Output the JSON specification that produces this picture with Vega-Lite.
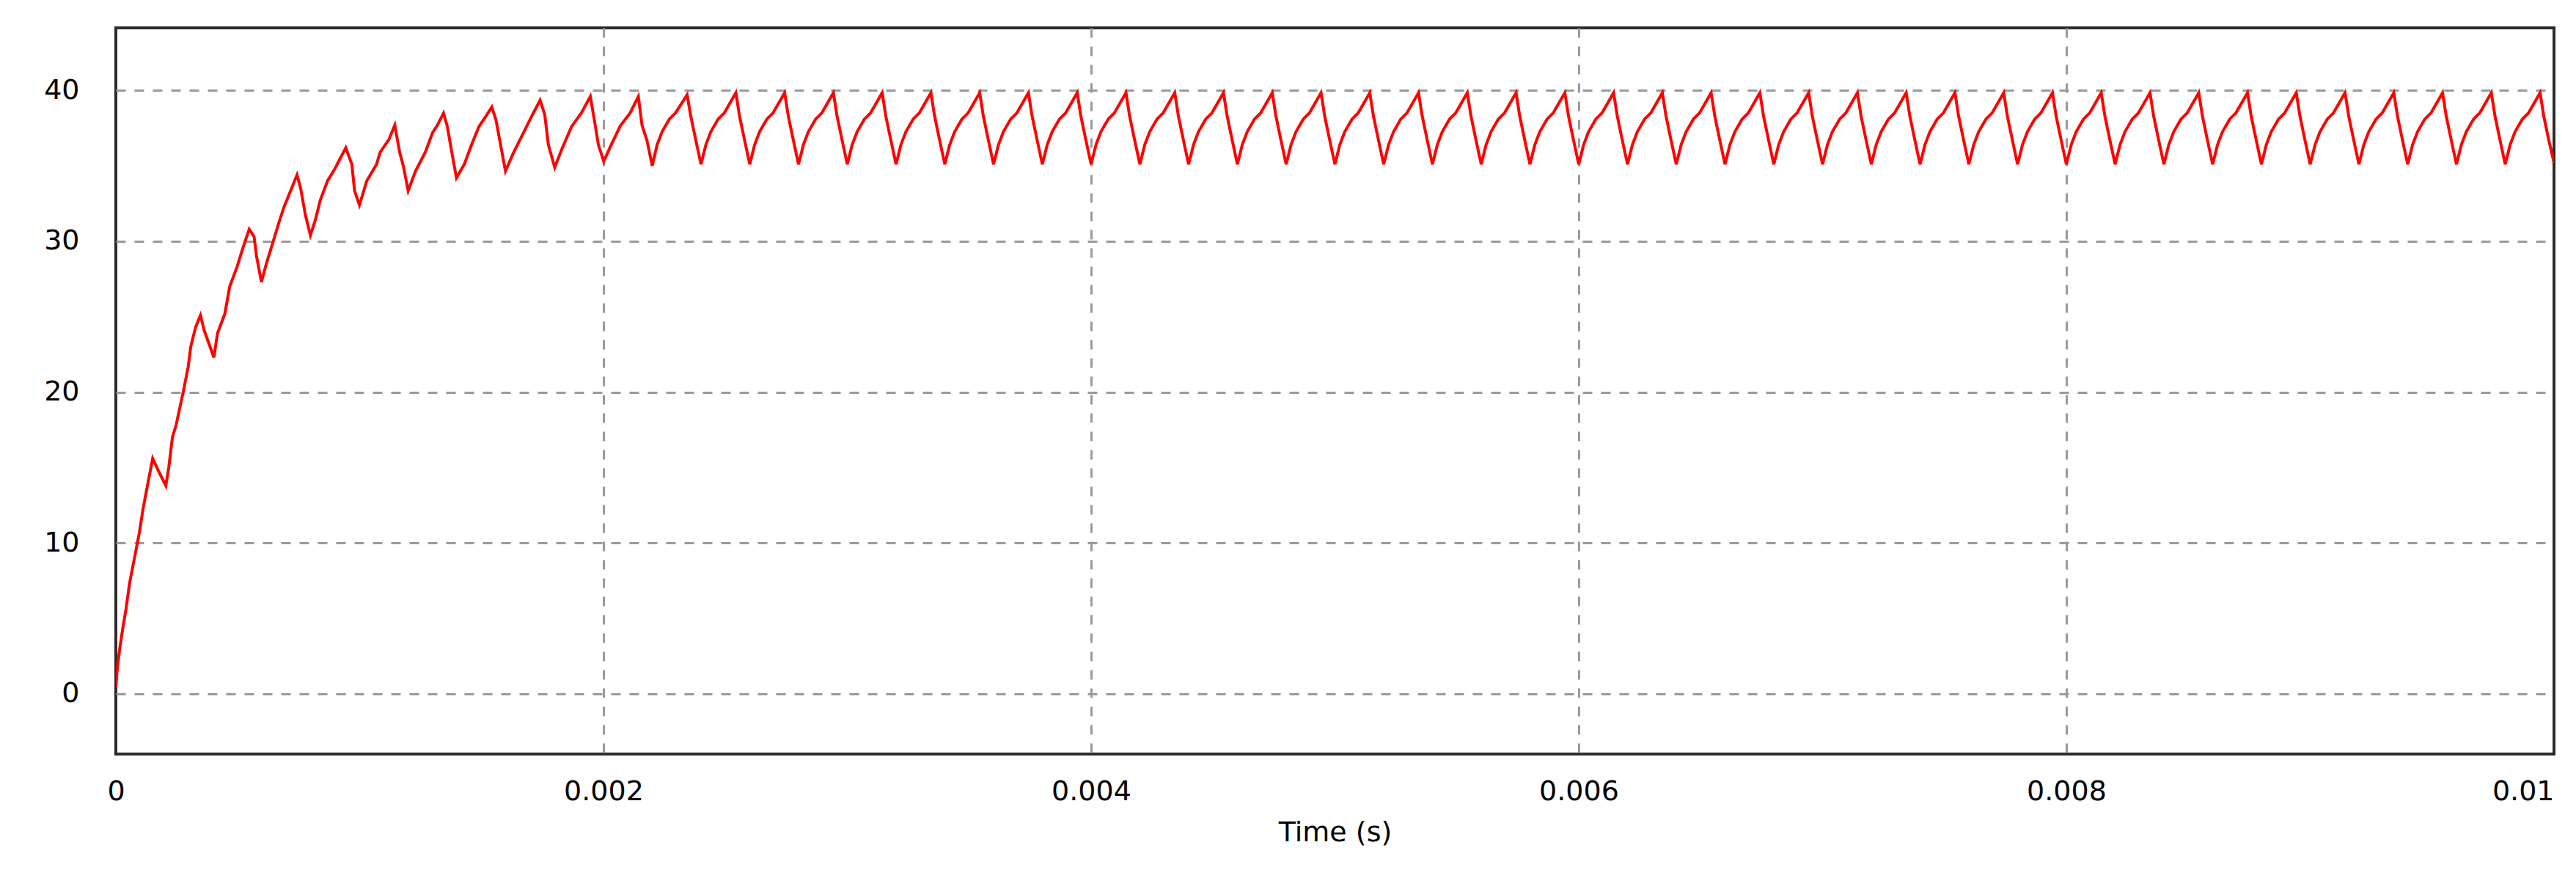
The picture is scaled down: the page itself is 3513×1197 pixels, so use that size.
{
  "$schema": "https://vega.github.io/schema/vega-lite/v6.json",
  "width": 3325,
  "height": 990,
  "autosize": {"type": "none"},
  "padding": {"left": 158, "top": 38, "right": 30, "bottom": 169},
  "background": "white",
  "config": {
    "view": {"stroke": "#2b2b2b", "strokeWidth": 4},
    "font": "DejaVu Sans"
  },
  "data": {
    "values": [
      {"t":0.0,"v":0.4},{"t":0.000006,"v":1.7},{"t":0.000016,"v":3.0},{"t":0.000028,"v":4.3},{"t":0.000041,"v":5.55},{"t":0.000056,"v":7.3},{"t":0.000071,"v":8.55},{"t":0.000096,"v":10.65},{"t":0.000111,"v":12.2},{"t":0.000126,"v":13.5},{"t":0.000151,"v":15.6},{"t":0.000177,"v":14.7},{"t":0.000205,"v":13.8},
      {"t":0.000217,"v":15.0},{"t":0.000232,"v":17.0},{"t":0.000247,"v":17.8},{"t":0.000277,"v":20.06},{"t":0.000297,"v":21.7},{"t":0.000307,"v":23.0},{"t":0.000327,"v":24.3},{"t":0.000347,"v":25.1},{"t":0.000362,"v":24.1},{"t":0.000402,"v":22.3},
      {"t":0.000417,"v":23.9},{"t":0.000447,"v":25.2},{"t":0.000467,"v":27.0},{"t":0.000497,"v":28.3},{"t":0.000522,"v":29.6},{"t":0.000547,"v":30.8},{"t":0.000567,"v":30.3},{"t":0.000577,"v":29.0},{"t":0.000597,"v":27.3},
      {"t":0.000617,"v":28.5},{"t":0.000638,"v":29.6},{"t":0.000668,"v":31.2},{"t":0.000688,"v":32.2},{"t":0.000718,"v":33.4},{"t":0.000743,"v":34.4},{"t":0.000758,"v":33.5},{"t":0.000778,"v":31.7},{"t":0.000798,"v":30.4},
      {"t":0.000818,"v":31.4},{"t":0.000838,"v":32.7},{"t":0.000868,"v":34.0},{"t":0.000898,"v":34.8},{"t":0.000943,"v":36.2},{"t":0.000968,"v":35.1},{"t":0.000979,"v":33.35},{"t":0.000999,"v":32.4},
      {"t":0.001029,"v":34.0},{"t":0.001069,"v":35.1},{"t":0.001084,"v":35.9},{"t":0.00112,"v":36.75},{"t":0.001144,"v":37.7},{"t":0.001164,"v":35.9},{"t":0.001179,"v":35.0},{"t":0.001199,"v":33.35},
      {"t":0.001229,"v":34.65},{"t":0.001269,"v":35.9},{"t":0.001299,"v":37.2},{"t":0.001319,"v":37.7},{"t":0.001344,"v":38.5},{"t":0.001359,"v":37.65},{"t":0.001379,"v":35.8},{"t":0.001397,"v":34.2},
      {"t":0.001429,"v":35.1},{"t":0.001459,"v":36.4},{"t":0.001489,"v":37.6},{"t":0.001514,"v":38.2},{"t":0.001542,"v":38.9},{"t":0.001559,"v":38.05},{"t":0.001579,"v":36.3},{"t":0.001598,"v":34.65},
      {"t":0.001629,"v":35.8},{"t":0.001669,"v":37.1},{"t":0.001709,"v":38.4},{"t":0.00174,"v":39.35},{"t":0.001759,"v":38.4},{"t":0.001774,"v":36.4},{"t":0.0018,"v":34.9},
      {"t":0.001829,"v":36.1},{"t":0.001869,"v":37.6},{"t":0.001909,"v":38.5},{"t":0.001946,"v":39.6},{"t":0.001964,"v":37.9},{"t":0.001979,"v":36.4},{"t":0.002001,"v":35.3},
      {"t":0.002029,"v":36.3},{"t":0.002069,"v":37.65},{"t":0.002109,"v":38.5},{"t":0.002143,"v":39.6},{"t":0.002158,"v":37.7},{"t":0.002178,"v":36.7},
      {"t":0.0022,"v":35.0},{"t":0.00222,"v":36.4},{"t":0.00224,"v":37.25},{"t":0.00227,"v":38.1},{"t":0.002295,"v":38.5},{"t":0.002343,"v":39.7},{"t":0.002358,"v":38.3},{"t":0.002378,"v":36.75},
      {"t":0.0024,"v":35.1},{"t":0.00242,"v":36.4},{"t":0.00244,"v":37.25},{"t":0.00247,"v":38.1},{"t":0.002495,"v":38.5},{"t":0.002543,"v":39.85},{"t":0.002558,"v":38.3},{"t":0.002578,"v":36.75},
      {"t":0.0026,"v":35.1},{"t":0.00262,"v":36.4},{"t":0.00264,"v":37.25},{"t":0.00267,"v":38.1},{"t":0.002695,"v":38.5},{"t":0.002743,"v":39.85},{"t":0.002758,"v":38.3},{"t":0.002778,"v":36.75},
      {"t":0.0028,"v":35.1},{"t":0.00282,"v":36.4},{"t":0.00284,"v":37.25},{"t":0.00287,"v":38.1},{"t":0.002895,"v":38.5},{"t":0.002943,"v":39.85},{"t":0.002958,"v":38.3},{"t":0.002978,"v":36.75},
      {"t":0.003,"v":35.1},{"t":0.00302,"v":36.4},{"t":0.00304,"v":37.25},{"t":0.00307,"v":38.1},{"t":0.003095,"v":38.5},{"t":0.003143,"v":39.85},{"t":0.003158,"v":38.3},{"t":0.003178,"v":36.75},
      {"t":0.0032,"v":35.1},{"t":0.00322,"v":36.4},{"t":0.00324,"v":37.25},{"t":0.00327,"v":38.1},{"t":0.003295,"v":38.5},{"t":0.003343,"v":39.85},{"t":0.003358,"v":38.3},{"t":0.003378,"v":36.75},
      {"t":0.0034,"v":35.1},{"t":0.00342,"v":36.4},{"t":0.00344,"v":37.25},{"t":0.00347,"v":38.1},{"t":0.003495,"v":38.5},{"t":0.003543,"v":39.85},{"t":0.003558,"v":38.3},{"t":0.003578,"v":36.75},
      {"t":0.0036,"v":35.1},{"t":0.00362,"v":36.4},{"t":0.00364,"v":37.25},{"t":0.00367,"v":38.1},{"t":0.003695,"v":38.5},{"t":0.003743,"v":39.85},{"t":0.003758,"v":38.3},{"t":0.003778,"v":36.75},
      {"t":0.0038,"v":35.1},{"t":0.00382,"v":36.4},{"t":0.00384,"v":37.25},{"t":0.00387,"v":38.1},{"t":0.003895,"v":38.5},{"t":0.003943,"v":39.85},{"t":0.003958,"v":38.3},{"t":0.003978,"v":36.75},
      {"t":0.004,"v":35.1},{"t":0.00402,"v":36.4},{"t":0.00404,"v":37.25},{"t":0.00407,"v":38.1},{"t":0.004095,"v":38.5},{"t":0.004143,"v":39.85},{"t":0.004158,"v":38.3},{"t":0.004178,"v":36.75},
      {"t":0.0042,"v":35.1},{"t":0.00422,"v":36.4},{"t":0.00424,"v":37.25},{"t":0.00427,"v":38.1},{"t":0.004295,"v":38.5},{"t":0.004343,"v":39.85},{"t":0.004358,"v":38.3},{"t":0.004378,"v":36.75},
      {"t":0.0044,"v":35.1},{"t":0.00442,"v":36.4},{"t":0.00444,"v":37.25},{"t":0.00447,"v":38.1},{"t":0.004495,"v":38.5},{"t":0.004543,"v":39.85},{"t":0.004558,"v":38.3},{"t":0.004578,"v":36.75},
      {"t":0.0046,"v":35.1},{"t":0.00462,"v":36.4},{"t":0.00464,"v":37.25},{"t":0.00467,"v":38.1},{"t":0.004695,"v":38.5},{"t":0.004743,"v":39.85},{"t":0.004758,"v":38.3},{"t":0.004778,"v":36.75},
      {"t":0.0048,"v":35.1},{"t":0.00482,"v":36.4},{"t":0.00484,"v":37.25},{"t":0.00487,"v":38.1},{"t":0.004895,"v":38.5},{"t":0.004943,"v":39.85},{"t":0.004958,"v":38.3},{"t":0.004978,"v":36.75},
      {"t":0.005,"v":35.1},{"t":0.00502,"v":36.4},{"t":0.00504,"v":37.25},{"t":0.00507,"v":38.1},{"t":0.005095,"v":38.5},{"t":0.005143,"v":39.85},{"t":0.005158,"v":38.3},{"t":0.005178,"v":36.75},
      {"t":0.0052,"v":35.1},{"t":0.00522,"v":36.4},{"t":0.00524,"v":37.25},{"t":0.00527,"v":38.1},{"t":0.005295,"v":38.5},{"t":0.005343,"v":39.85},{"t":0.005358,"v":38.3},{"t":0.005378,"v":36.75},
      {"t":0.0054,"v":35.1},{"t":0.00542,"v":36.4},{"t":0.00544,"v":37.25},{"t":0.00547,"v":38.1},{"t":0.005495,"v":38.5},{"t":0.005543,"v":39.85},{"t":0.005558,"v":38.3},{"t":0.005578,"v":36.75},
      {"t":0.0056,"v":35.1},{"t":0.00562,"v":36.4},{"t":0.00564,"v":37.25},{"t":0.00567,"v":38.1},{"t":0.005695,"v":38.5},{"t":0.005743,"v":39.85},{"t":0.005758,"v":38.3},{"t":0.005778,"v":36.75},
      {"t":0.0058,"v":35.1},{"t":0.00582,"v":36.4},{"t":0.00584,"v":37.25},{"t":0.00587,"v":38.1},{"t":0.005895,"v":38.5},{"t":0.005943,"v":39.85},{"t":0.005958,"v":38.3},{"t":0.005978,"v":36.75},
      {"t":0.006,"v":35.1},{"t":0.00602,"v":36.4},{"t":0.00604,"v":37.25},{"t":0.00607,"v":38.1},{"t":0.006095,"v":38.5},{"t":0.006143,"v":39.85},{"t":0.006158,"v":38.3},{"t":0.006178,"v":36.75},
      {"t":0.0062,"v":35.1},{"t":0.00622,"v":36.4},{"t":0.00624,"v":37.25},{"t":0.00627,"v":38.1},{"t":0.006295,"v":38.5},{"t":0.006343,"v":39.85},{"t":0.006358,"v":38.3},{"t":0.006378,"v":36.75},
      {"t":0.0064,"v":35.1},{"t":0.00642,"v":36.4},{"t":0.00644,"v":37.25},{"t":0.00647,"v":38.1},{"t":0.006495,"v":38.5},{"t":0.006543,"v":39.85},{"t":0.006558,"v":38.3},{"t":0.006578,"v":36.75},
      {"t":0.0066,"v":35.1},{"t":0.00662,"v":36.4},{"t":0.00664,"v":37.25},{"t":0.00667,"v":38.1},{"t":0.006695,"v":38.5},{"t":0.006743,"v":39.85},{"t":0.006758,"v":38.3},{"t":0.006778,"v":36.75},
      {"t":0.0068,"v":35.1},{"t":0.00682,"v":36.4},{"t":0.00684,"v":37.25},{"t":0.00687,"v":38.1},{"t":0.006895,"v":38.5},{"t":0.006943,"v":39.85},{"t":0.006958,"v":38.3},{"t":0.006978,"v":36.75},
      {"t":0.007,"v":35.1},{"t":0.00702,"v":36.4},{"t":0.00704,"v":37.25},{"t":0.00707,"v":38.1},{"t":0.007095,"v":38.5},{"t":0.007143,"v":39.85},{"t":0.007158,"v":38.3},{"t":0.007178,"v":36.75},
      {"t":0.0072,"v":35.1},{"t":0.00722,"v":36.4},{"t":0.00724,"v":37.25},{"t":0.00727,"v":38.1},{"t":0.007295,"v":38.5},{"t":0.007343,"v":39.85},{"t":0.007358,"v":38.3},{"t":0.007378,"v":36.75},
      {"t":0.0074,"v":35.1},{"t":0.00742,"v":36.4},{"t":0.00744,"v":37.25},{"t":0.00747,"v":38.1},{"t":0.007495,"v":38.5},{"t":0.007543,"v":39.85},{"t":0.007558,"v":38.3},{"t":0.007578,"v":36.75},
      {"t":0.0076,"v":35.1},{"t":0.00762,"v":36.4},{"t":0.00764,"v":37.25},{"t":0.00767,"v":38.1},{"t":0.007695,"v":38.5},{"t":0.007743,"v":39.85},{"t":0.007758,"v":38.3},{"t":0.007778,"v":36.75},
      {"t":0.0078,"v":35.1},{"t":0.00782,"v":36.4},{"t":0.00784,"v":37.25},{"t":0.00787,"v":38.1},{"t":0.007895,"v":38.5},{"t":0.007943,"v":39.85},{"t":0.007958,"v":38.3},{"t":0.007978,"v":36.75},
      {"t":0.008,"v":35.1},{"t":0.00802,"v":36.4},{"t":0.00804,"v":37.25},{"t":0.00807,"v":38.1},{"t":0.008095,"v":38.5},{"t":0.008143,"v":39.85},{"t":0.008158,"v":38.3},{"t":0.008178,"v":36.75},
      {"t":0.0082,"v":35.1},{"t":0.00822,"v":36.4},{"t":0.00824,"v":37.25},{"t":0.00827,"v":38.1},{"t":0.008295,"v":38.5},{"t":0.008343,"v":39.85},{"t":0.008358,"v":38.3},{"t":0.008378,"v":36.75},
      {"t":0.0084,"v":35.1},{"t":0.00842,"v":36.4},{"t":0.00844,"v":37.25},{"t":0.00847,"v":38.1},{"t":0.008495,"v":38.5},{"t":0.008543,"v":39.85},{"t":0.008558,"v":38.3},{"t":0.008578,"v":36.75},
      {"t":0.0086,"v":35.1},{"t":0.00862,"v":36.4},{"t":0.00864,"v":37.25},{"t":0.00867,"v":38.1},{"t":0.008695,"v":38.5},{"t":0.008743,"v":39.85},{"t":0.008758,"v":38.3},{"t":0.008778,"v":36.75},
      {"t":0.0088,"v":35.1},{"t":0.00882,"v":36.4},{"t":0.00884,"v":37.25},{"t":0.00887,"v":38.1},{"t":0.008895,"v":38.5},{"t":0.008943,"v":39.85},{"t":0.008958,"v":38.3},{"t":0.008978,"v":36.75},
      {"t":0.009,"v":35.1},{"t":0.00902,"v":36.4},{"t":0.00904,"v":37.25},{"t":0.00907,"v":38.1},{"t":0.009095,"v":38.5},{"t":0.009143,"v":39.85},{"t":0.009158,"v":38.3},{"t":0.009178,"v":36.75},
      {"t":0.0092,"v":35.1},{"t":0.00922,"v":36.4},{"t":0.00924,"v":37.25},{"t":0.00927,"v":38.1},{"t":0.009295,"v":38.5},{"t":0.009343,"v":39.85},{"t":0.009358,"v":38.3},{"t":0.009378,"v":36.75},
      {"t":0.0094,"v":35.1},{"t":0.00942,"v":36.4},{"t":0.00944,"v":37.25},{"t":0.00947,"v":38.1},{"t":0.009495,"v":38.5},{"t":0.009543,"v":39.85},{"t":0.009558,"v":38.3},{"t":0.009578,"v":36.75},
      {"t":0.0096,"v":35.1},{"t":0.00962,"v":36.4},{"t":0.00964,"v":37.25},{"t":0.00967,"v":38.1},{"t":0.009695,"v":38.5},{"t":0.009743,"v":39.85},{"t":0.009758,"v":38.3},{"t":0.009778,"v":36.75},
      {"t":0.0098,"v":35.1},{"t":0.00982,"v":36.4},{"t":0.00984,"v":37.25},{"t":0.00987,"v":38.1},{"t":0.009895,"v":38.5},{"t":0.009943,"v":39.85},{"t":0.009958,"v":38.3},{"t":0.009978,"v":36.75},
      {"t":0.01,"v":35.2}
    ]
  },
  "mark": {"type": "line", "color": "#ff0000", "strokeWidth": 4, "clip": true},
  "encoding": {
    "x": {
      "field": "t",
      "type": "quantitative",
      "scale": {"domain": [0, 0.01], "nice": false, "zero": false},
      "axis": {
        "values": [0, 0.002, 0.004, 0.006, 0.008, 0.01],
        "format": "~g",
        "title": "Time (s)",
        "titleFont": "DejaVu Sans",
        "titleFontSize": 38,
        "titleFontWeight": "normal",
        "titleColor": "#000000",
        "titlePadding": 18,
        "labelFont": "DejaVu Sans",
        "labelFontSize": 38,
        "labelColor": "#000000",
        "labelPadding": 32,
        "labelAlign": {"expr": "datum.value >= 0.01 ? 'right' : 'center'"},
        "labelOverlap": false,
        "ticks": false,
        "domain": false,
        "grid": true,
        "gridColor": "#9a9a9a",
        "gridWidth": 3,
        "gridDash": [13, 12],
        "gridOpacity": {"condition": {"test": "datum.value <= 0 || datum.value >= 0.01", "value": 0}, "value": 1}
      }
    },
    "y": {
      "field": "v",
      "type": "quantitative",
      "scale": {"domain": [-4, 44.15], "nice": false, "zero": false},
      "axis": {
        "values": [0, 10, 20, 30, 40],
        "title": null,
        "labelFont": "DejaVu Sans",
        "labelFontSize": 38,
        "labelColor": "#000000",
        "labelPadding": 50,
        "ticks": false,
        "domain": false,
        "grid": true,
        "gridColor": "#9a9a9a",
        "gridWidth": 3,
        "gridDash": [13, 12]
      }
    }
  }
}
